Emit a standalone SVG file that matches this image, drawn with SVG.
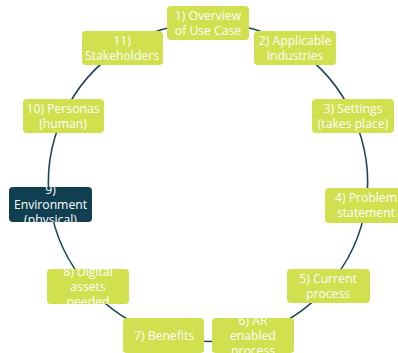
<svg xmlns="http://www.w3.org/2000/svg" width="398" height="353" viewBox="0 0 398 353">
<style>
.bg{fill:#ffffff}
.n rect{fill:#d0e04e}
.n.dark rect{fill:#0f3f50}
.n text{fill:#ffffff;font-family:"Open Sans","Noto Sans",sans-serif;font-size:12.2px;text-anchor:middle}
.c path{fill:none;stroke:#1a4759;stroke-width:1.6}
</style>
<defs>
<clipPath id="clip9"><rect x="9" y="187" width="83" height="35" rx="4"/></clipPath>
<clipPath id="clip8"><rect x="47" y="269" width="82" height="35" rx="4"/></clipPath>
<clipPath id="clip6"><rect x="212" y="318" width="82" height="35" rx="4"/></clipPath>
</defs>
<rect class="bg" x="0" y="0" width="398" height="353"/>
<g id="connectors" class="c">
<path d="M208,23 A159.5,159.5 0 0 1 295,48"/>
<path d="M295,48 A159.5,159.5 0 0 1 353,116"/>
<path d="M353,116 A159.5,159.5 0 0 1 366,205"/>
<path d="M366,205 A159.5,159.5 0 0 1 328,286"/>
<path d="M328,286 A159.5,159.5 0 0 1 253,335"/>
<path d="M253,335 A159.5,159.5 0 0 1 164,335"/>
<path d="M164,335 A159.5,159.5 0 0 1 88,286"/>
<path d="M88,286 A159.5,159.5 0 0 1 50,205"/>
<path d="M50,205 A159.5,159.5 0 0 1 63,116"/>
<path d="M63,116 A159.5,159.5 0 0 1 122,48"/>
<path d="M122,48 A159.5,159.5 0 0 1 208,23"/>
</g>
<g id="node1" class="n">
<rect x="167" y="6" width="82" height="34" rx="4"/>
<text x="208" y="19.5">1) Overview</text>
<text x="208" y="34.5">of Use Case</text>
</g>
<g id="node2" class="n">
<rect x="254" y="31" width="82" height="34" rx="4"/>
<text x="295" y="44.5">2) Applicable</text>
<text x="295" y="59.5">Industries</text>
</g>
<g id="node3" class="n">
<rect x="312" y="99" width="82" height="34" rx="4"/>
<text x="353" y="112.5">3) Settings</text>
<text x="353" y="127.5">(takes place)</text>
</g>
<g id="node4" class="n">
<rect x="325" y="188" width="82" height="35" rx="4"/>
<text x="366" y="201.5">4) Problem</text>
<text x="366" y="216.5">statement</text>
</g>
<g id="node5" class="n">
<rect x="287" y="269" width="83" height="34" rx="4"/>
<text x="328" y="282.5">5) Current</text>
<text x="328" y="297.5">process</text>
</g>
<g id="node6" class="n">
<rect x="212" y="318" width="82" height="35" rx="4"/>
<g clip-path="url(#clip6)">
<text x="253" y="325">6) AR</text>
<text x="253" y="340">enabled</text>
<text x="253" y="355">process</text>
</g>
</g>
<g id="node7" class="n">
<rect x="123" y="318" width="81" height="35" rx="4"/>
<text x="164" y="339.5">7) Benefits</text>
</g>
<g id="node8" class="n">
<rect x="47" y="269" width="82" height="35" rx="4"/>
<g clip-path="url(#clip8)">
<text x="88" y="276">8) Digital</text>
<text x="88" y="291">assets</text>
<text x="88" y="306">needed</text>
</g>
</g>
<g id="node9" class="n dark">
<rect x="9" y="187" width="83" height="35" rx="4"/>
<g clip-path="url(#clip9)">
<text x="50.5" y="194">9)</text>
<text x="50.5" y="209">Environment</text>
<text x="50.5" y="224">(physical)</text>
</g>
</g>
<g id="node10" class="n">
<rect x="23" y="99" width="81" height="34" rx="4"/>
<text x="63" y="112.5">10) Personas</text>
<text x="63" y="127.5">(human)</text>
</g>
<g id="node11" class="n">
<rect x="82" y="31" width="81" height="34" rx="4"/>
<text x="122" y="44.5">11)</text>
<text x="122" y="59.5">Stakeholders</text>
</g>
</svg>
